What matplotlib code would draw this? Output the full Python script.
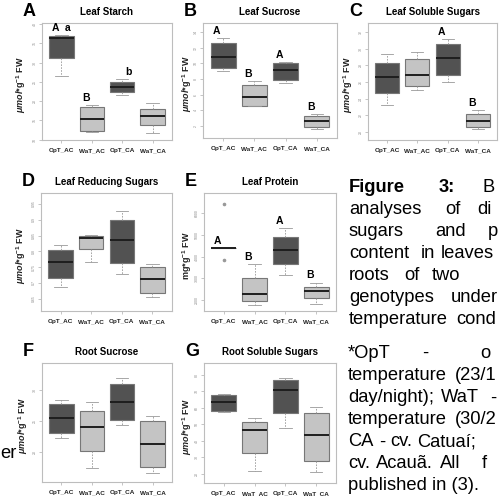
import matplotlib
matplotlib.use('Agg')
import matplotlib.pyplot as plt

plt.rcParams['font.family'] = ['Liberation Sans', 'DejaVu Sans']
plt.rcParams['mathtext.fontset'] = 'custom'
plt.rcParams['mathtext.rm'] = 'Liberation Sans:bold'
plt.rcParams['mathtext.it'] = 'Liberation Sans:italic:bold'
plt.rcParams['mathtext.bf'] = 'Liberation Sans:bold'

W, H = 500, 496

groups = ['OpT_AC', 'WaT_AC', 'OpT_CA', 'WaT_CA']

# five-number summaries per group: low whisker, q1, median, q3, high whisker
leaf_starch = [[26.6, 31.2, 36.4, 36.9, 37.2],
               [12.1, 12.3, 15.4, 18.5, 19.1],
               [21.6, 22.4, 23.7, 25.0, 25.8],
               [11.8, 13.9, 16.2, 18.0, 19.6]]
leaf_sucrose = [[9.02, 9.36, 10.77, 12.56, 13.2],
                [4.51, 4.59, 5.66, 7.23, 7.74],
                [7.45, 7.87, 9.11, 10.08, 10.21],
                [1.57, 1.91, 2.60, 3.27, 3.49]]
leaf_soluble = [[23.2, 24.64, 26.64, 28.24, 29.36],
                [25.04, 25.48, 26.88, 28.76, 29.64],
                [26.0, 26.84, 28.84, 30.56, 31.12],
                [20.4, 20.6, 21.28, 22.16, 22.6]]
leaf_reducing = [[0.688, 0.717, 0.767, 0.804, 0.820],
                 [0.767, 0.807, 0.841, 0.848, 0.853],
                 [0.727, 0.763, 0.835, 0.899, 0.927],
                 [0.656, 0.669, 0.714, 0.752, 0.759]]
leaf_protein = [[4385, 4385, 4385, 4385, 4385],
                [1769, 1969, 2308, 3031, 3646],
                [3154, 3646, 4308, 4892, 5308],
                [1846, 2123, 2431, 2631, 2815]]
protein_outliers = [[6431, 3846], [], [], []]
root_sucrose = [[22.32, 23.14, 25.51, 27.73, 28.49],
                [17.35, 20.22, 24.11, 26.59, 28.05],
                [24.43, 25.24, 28.05, 31.03, 32.05],
                [16.65, 17.62, 21.35, 25.08, 25.84]]
root_soluble = [[57.2, 58.2, 63.5, 67.6, 68.2],
                [21.4, 32.8, 46.4, 51.1, 53.6],
                [47.5, 56.6, 70.6, 77.0, 78.0],
                [21.2, 27.9, 43.6, 56.8, 60.3]]

umol_label = r'$\mu mol$*g$^{-1}$ FW'
mg_label = r'mg*g$^{-1}$ FW'

# letter, title, data, outliers, ylabel, ticks, ylim, upper letters, lower letters, frame px, ylabel x px
panels = [
    ('A', 'Leaf Starch', leaf_starch, None, umol_label, [10, 15, 20, 25, 30, 35, 40], (9.9, 40.3),
     ['A', 'B', '', ''], ['a', '', 'b', ''], (42, 172, 23, 140), 25),
    ('B', 'Leaf Sucrose', leaf_sucrose, None, umol_label, [2, 4, 6, 8, 10, 12, 14], (0.47, 15.15),
     ['A', 'B', 'A', 'B'], ['', '', '', ''], (203, 337, 23, 138), 191),
    ('C', 'Leaf Soluble Sugars', leaf_soluble, None, umol_label, [20, 22, 24, 26, 28, 30, 32], (19.04, 33.08),
     ['', '', 'A', 'B'], ['', '', '', ''], (368, 497, 23, 140), 352),
    ('D', 'Leaf Reducing Sugars', leaf_reducing, None, umol_label,
     [0.65, 0.70, 0.75, 0.80, 0.85, 0.90, 0.95], (0.611, 0.985),
     ['', '', '', ''], ['', '', '', ''], (41, 172, 193, 311), 25),
    ('E', 'Leaf Protein', leaf_protein, protein_outliers, mg_label, [2000, 3000, 4000, 5000, 6000], (1508, 6923),
     ['A', 'B', 'A', 'B'], ['', '', '', ''], (204, 336, 193, 311), 191),
    ('F', 'Root Sucrose', root_sucrose, None, umol_label, [20, 25, 30], (15.14, 34.43),
     ['', '', '', ''], ['', '', '', ''], (42, 172, 363, 482), 27),
    ('G', 'Root Soluble Sugars', root_soluble, None, umol_label, [20, 30, 40, 50, 60, 70, 80], (14.3, 87.1),
     ['', '', '', ''], ['', '', '', ''], (204, 336, 363, 483), 191),
]

dark = '#525252'
light = '#c4c4c4'
fills = [dark, light, dark, light]
frame_col = '#bdbdbd'

fig = plt.figure(figsize=(5, 4.96), dpi=100)

for letter, title, data, outl, ylab, ticks, ylim, upper, lower, (x0, x1, y0, y1), labx in panels:
    ax = fig.add_axes([x0 / W, 1 - y1 / H, (x1 - x0) / W, (y1 - y0) / H])
    stats = []
    for i, (lo, q1, med, q3, hi) in enumerate(data):
        fl = outl[i] if outl else []
        stats.append(dict(whislo=lo, q1=q1, med=med, q3=q3, whishi=hi, fliers=fl, label=groups[i]))
    bp = ax.bxp(stats, positions=[1, 2, 3, 4], widths=0.8, capwidths=0.4, patch_artist=True,
                boxprops=dict(edgecolor='#777777', linewidth=0.8),
                medianprops=dict(color='#1e1e1e', linewidth=1.4),
                whiskerprops=dict(color='#999999', linewidth=0.6, linestyle=(0, (2, 1.5))),
                capprops=dict(color='#999999', linewidth=0.6),
                flierprops=dict(marker='o', markersize=1.6, markerfacecolor='#999999',
                                markeredgecolor='#999999'))
    for patch, c in zip(bp['boxes'], fills):
        patch.set_facecolor(c)
    ax.set_xlim(0.36, 4.64)
    ax.set_ylim(*ylim)
    ax.set_yticks(ticks)
    ax.set_yticklabels([f'{t:g}' for t in ticks], rotation=90, va='center', fontsize=2.5, color='#888888')
    ax.set_xticks([1, 2, 3, 4])
    ax.set_xticklabels(groups, fontsize=4.6, fontweight='bold', color='#222222')
    ax.tick_params(axis='both', length=2, width=0.4, color='#999999', pad=1.5)
    ax.tick_params(axis='x', pad=4)
    for s in ax.spines.values():
        s.set_color(frame_col)
        s.set_linewidth(0.8)
    ax.set_ylabel(ylab, fontsize=6.5, fontweight='bold', color='#222222')
    ax.yaxis.set_label_coords((labx + 3 - x0) / (x1 - x0), 0.47)
    ax.set_title(title, fontsize=7, fontweight='bold', pad=0, y=1 + 11 / (y1 - y0), va='center')
    for i in range(4):
        top = data[i][4]
        if upper[i]:
            ax.annotate(upper[i], (i + 1 - 0.2, top), xytext=(0, 1.5), textcoords='offset points',
                        ha='center', va='bottom', fontsize=7.5, fontweight='bold')
        if lower[i]:
            ax.annotate(lower[i], (i + 1 + 0.2, top), xytext=(0, 1.5), textcoords='offset points',
                        ha='center', va='bottom', fontsize=7.5, fontweight='bold')
    fig.text((x0 - 19) / W, 1 - (y0 - 11) / H, letter, fontsize=13, fontweight='bold',
             ha='left', va='center')

# caption text at the right (cut by the page edge)
caption = [
    (188, [(349, 'Figure', True), (439, '3:', True), (483, 'B', False)]),
    (209, [(349, 'analyses', False), (445, 'of', False), (477, 'di', False)]),
    (232, [(349, 'sugars', False), (435, 'and', False), (488, 'p', False)]),
    (254, [(349, 'content', False), (421, 'in', False), (441, 'leaves', False)]),
    (276, [(349, 'roots', False), (404, 'of', False), (432, 'two', False)]),
    (298, [(349, 'genotypes', False), (451, 'under', False)]),
    (320, [(349, 'temperature', False), (456, 'cond', False)]),
    (353, [(348, '*OpT', False), (422, '-', False), (480, 'o', False)]),
    (376, [(348, 'temperature', False), (455, '(23/1', False)]),
    (398, [(348, 'day/night);', False), (441, 'WaT', False), (490, '-', False)]),
    (420, [(348, 'temperature', False), (455, '(30/2', False)]),
    (442, [(348, 'CA', False), (379, '-', False), (390, 'cv.', False), (417, 'Catuaí;', False)]),
    (463, [(348, 'cv.', False), (376, 'Acauã.', False), (440, 'All', False), (482, 'f', False)]),
    (485, [(348, 'published in (3).', False)]),
]
for y, words in caption:
    for x, w, b in words:
        fig.text(x / W, 1 - y / H, w, fontsize=13.2, fontweight='bold' if b else 'normal',
                 ha='left', va='center', color='black')

fig.text(0 / W, 1 - 453 / H, 'er', fontsize=13.2, ha='left', va='center')

fig.savefig('out.png', dpi=100)
